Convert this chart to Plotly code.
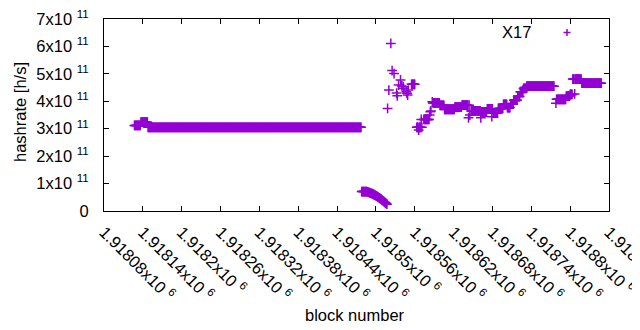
import plotly.graph_objects as go

# ---- data (block number, hashrate in units of 1e11 h/s) ----
# constant runs: start block, end block (inclusive), value
run_start = [1918127, 1918137, 1918148, 1918478, 1918555, 1918563, 1918574, 1918588,
             1918599, 1918606, 1918622, 1918633, 1918647, 1918663, 1918672, 1918681,
             1918689, 1918697, 1918703, 1918708, 1918713, 1918719, 1918723, 1918728,
             1918733, 1918779, 1918794, 1918800, 1918805, 1918818]
run_end = [1918136, 1918147, 1918477, 1918486, 1918560, 1918571, 1918582, 1918598,
           1918605, 1918621, 1918632, 1918644, 1918661, 1918671, 1918680, 1918688,
           1918696, 1918702, 1918707, 1918712, 1918718, 1918722, 1918727, 1918732,
           1918775, 1918793, 1918799, 1918803, 1918817, 1918848]
run_value = [3.12, 3.24, 3.05, 0.71, 4.62, 3.05, 3.34, 3.94,
             3.85, 3.71, 3.79, 3.86, 3.65, 3.61, 3.72, 3.57,
             3.74, 3.89, 3.77, 3.90, 4.04, 4.17, 4.35, 4.47,
             4.55, 4.07, 4.19, 4.25, 4.81, 4.66]

# the falling stretch after the big drop, one value per block
decline_first_block = 1918487
decline_values = [0.70, 0.69, 0.68, 0.67, 0.66, 0.65, 0.64, 0.63, 0.62, 0.61,
                  0.60, 0.58, 0.57, 0.56, 0.54, 0.53, 0.51, 0.50, 0.48, 0.46,
                  0.45, 0.43, 0.41, 0.39, 0.37, 0.35, 0.33, 0.31, 0.29, 0.27, 0.25]

# isolated points
single_blocks = [1918518, 1918520, 1918523, 1918525, 1918528, 1918532, 1918533, 1918535,
                 1918538, 1918540, 1918542, 1918543, 1918547, 1918548, 1918549, 1918550,
                 1918566, 1918570, 1918583, 1918584, 1918585, 1918587, 1918643, 1918645,
                 1918662, 1918679, 1918778, 1918804, 1918807]
single_values = [3.74, 4.41, 6.11, 5.12, 5.01, 4.30, 4.20, 4.59,
                 4.78, 4.56, 4.53, 4.47, 4.35, 4.29, 4.23, 4.41,
                 2.95, 3.34, 3.50, 3.62, 3.65, 3.98, 3.40, 3.50,
                 3.40, 3.44, 3.93, 4.81, 4.27]

x_tickvals = [1918080 + 60 * i for i in range(14)]
x_ticktext = ["1.91808", "1.91814", "1.9182", "1.91826", "1.91832", "1.91838", "1.91844",
              "1.9185", "1.91856", "1.91862", "1.91868", "1.91874", "1.9188", "1.91886"]
y_tickvals = [0, 1e11, 2e11, 3e11, 4e11, 5e11, 6e11, 7e11]
y_ticktext = ["0", "1", "2", "3", "4", "5", "6", "7"]

series_name = "X17"
color = "#9400d3"

# ---- assemble series ----
points = {}
for s, e, v in zip(run_start, run_end, run_value):
    for b in range(s, e + 1):
        points[b] = v * 1e11
for i, v in enumerate(decline_values):
    points[decline_first_block + i] = v * 1e11
for b, v in zip(single_blocks, single_values):
    points[b] = v * 1e11
xs = sorted(points)
ys = [points[b] for b in xs]

FONT = "Liberation Sans, Arial, sans-serif"
fig = go.Figure()
fig.add_trace(go.Scatter(
    x=xs, y=ys, mode="markers", name=series_name, showlegend=False,
    marker=dict(symbol="cross-thin", size=7, color=color,
                line=dict(color=color, width=1.5)),
))

# page body adds an 8px margin, so the figure is laid out 8px smaller/shifted
OFF = 8
L, R, T, B = 104, 609, 19, 211          # plot area in screen pixels
W, H = 640 - OFF, 330 - OFF
pw, ph = R - L, B - T

def px(x):
    return (x - L) / pw

def py(y):
    return (B - y) / ph

fig.update_layout(
    width=W, height=H,
    margin=dict(l=L - OFF, r=W - (R - OFF), t=T - OFF, b=H - (B - OFF), pad=0,
                autoexpand=False),
    plot_bgcolor="white", paper_bgcolor="white",
    font=dict(family=FONT, size=16.5, color="#000000"),
    xaxis=dict(
        range=[1918080, 1918860], tickmode="array", tickvals=x_tickvals,
        ticktext=[t + "x10 <sup>6</sup>" for t in x_ticktext],
        tickangle=45, ticks="inside", ticklen=5, tickcolor="black",
        showline=True, linecolor="black", linewidth=1, mirror="ticks",
        showgrid=False, zeroline=False, ticklabelstandoff=4, automargin=False,
        ticklabeloverflow="allow",
    ),
    yaxis=dict(
        range=[0, 7e11], tickmode="array", tickvals=y_tickvals,
        ticktext=[t if t == "0" else t + "x10 <sup>11</sup>" for t in y_ticktext],
        ticks="inside", ticklen=5, tickcolor="black",
        showline=True, linecolor="black", linewidth=1, mirror="ticks",
        showgrid=False, zeroline=False, ticklabelstandoff=11, automargin=False,
        ticklabeloverflow="allow",
    ),
    annotations=[
        dict(text="block number", xref="paper", yref="paper", x=px(355), y=py(315),
             xanchor="center", yanchor="middle", showarrow=False),
        dict(text="hashrate [h/s]", xref="paper", yref="paper", x=px(20), y=py(112),
             xanchor="center", yanchor="middle", textangle=-90, showarrow=False),
        dict(text=series_name, xref="paper", yref="paper", x=px(533), y=py(32),
             xanchor="right", yanchor="middle", showarrow=False),
    ],
    shapes=[
        dict(type="line", xref="paper", yref="paper", x0=px(563.5), x1=px(570.5),
             y0=py(32.5), y1=py(32.5), line=dict(color=color, width=1.5)),
        dict(type="line", xref="paper", yref="paper", x0=px(567), x1=px(567),
             y0=py(29), y1=py(36), line=dict(color=color, width=1.5)),
    ],
)

fig.write_html("out.html")
